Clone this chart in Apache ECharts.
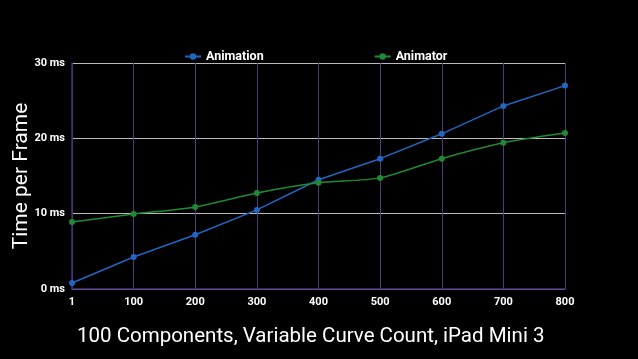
<!DOCTYPE html>
<html><head><meta charset="utf-8">
<script src="https://cdn.jsdelivr.net/npm/echarts@6/dist/echarts.min.js"></script>
<style>html,body{margin:0;padding:0;background:#000;}#c{width:638px;height:359px;}</style>
</head><body><div id="c"></div>
<script>
var categories = ['1','100','200','300','400','500','600','700','800'];
var animation = [0.8, 4.25, 7.2, 10.5, 14.5, 17.3, 20.6, 24.3, 27.0];
var animator = [8.9, 9.95, 10.9, 12.75, 14.1, 14.75, 17.3, 19.4, 20.7];
var yTicks = [0, 10, 20, 30];

var chart = echarts.init(document.getElementById('c'));
chart.setOption({
  backgroundColor: '#000',
  animation: false,
  title: {
    text: '100 Components, Variable Curve Count, iPad Mini 3',
    left: 72, top: 321,
    textStyle: {color: '#fff', fontSize: 20.5, fontWeight: 'normal', fontFamily: 'Roboto'}
  },
  legend: {
    top: 45, left: 179,
    itemGap: 110,
    itemWidth: 16, itemHeight: 8,
    textStyle: {color: '#fff', fontSize: 12.5, fontWeight: 'bold', fontFamily: 'Roboto'},
    data: ['Animation', 'Animator']
  },
  grid: {left: 72, right: 73, top: 63, bottom: 70, outerBoundsMode: 'none'},
  xAxis: {
    type: 'category', data: categories, boundaryGap: false,
    axisLine: {lineStyle: {color: '#45307a', width: 1.5}},
    axisTick: {show: false},
    axisLabel: {color: '#fff', fontSize: 11, fontWeight: 'bold', fontFamily: 'Roboto', margin: 8},
    splitLine: {show: true, lineStyle: {color: '#4b3f78'}}
  },
  yAxis: {
    type: 'value', min: 0, max: 30, interval: 10,
    name: 'Time per Frame', nameLocation: 'middle', nameGap: 40, nameRotate: 90,
    nameMoveOverlap: false,
    nameTextStyle: {color: '#fff', fontSize: 21, fontFamily: 'Roboto'},
    axisLine: {show: true, lineStyle: {color: '#45307a', width: 1.5}},
    axisTick: {show: false},
    axisLabel: {color: '#fff', fontSize: 11, fontWeight: 'bold', fontFamily: 'Roboto', margin: 7,
      formatter: function(v){ return v + ' ms'; }},
    splitLine: {lineStyle: {color: '#bbbbbb'}}
  },
  series: [
    {name: 'Animation', type: 'line', data: animation, color: '#2166c3',
     symbol: 'circle', symbolSize: 6, lineStyle: {width: 1.5}},
    {name: 'Animator', type: 'line', data: animator, color: '#1f8a33', smooth: 0.25,
     symbol: 'circle', symbolSize: 6, lineStyle: {width: 1.5}}
  ]
});
</script></body></html>
